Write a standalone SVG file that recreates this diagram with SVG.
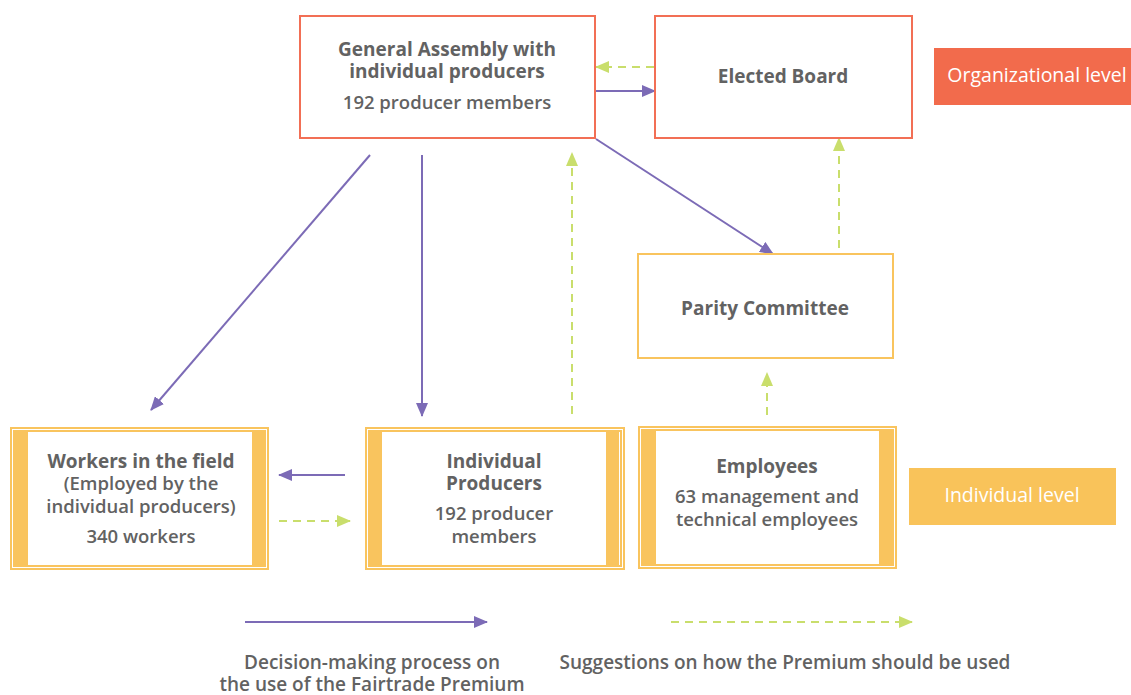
<svg xmlns="http://www.w3.org/2000/svg" width="1131" height="695" viewBox="0 0 1131 695">
<style>
text{font-family:"Open Sans","Noto Sans","Liberation Sans",sans-serif;font-size:19px;fill:#626262;text-anchor:middle}
.b{font-weight:bold}
.m{font-weight:600;font-size:18.5px}
.l{font-weight:600}
.w{fill:#ffffff;font-size:19.5px;font-weight:500}
.org{fill:#ffffff;stroke:#f26f55;stroke-width:2}
.ind{fill:#ffffff;stroke:#f9c45e;stroke-width:2}
.bar{fill:#f9c45e}
.dec{fill:none;stroke:#7c6bb6;stroke-width:2}
.sug{fill:none;stroke:#c9de6c;stroke-width:2;stroke-dasharray:8 6}
</style>
<defs>
<marker id="ap" markerUnits="userSpaceOnUse" markerWidth="14" markerHeight="12" refX="13" refY="6" orient="auto"><path d="M0,0 L14,6 L0,12 Z" fill="#7c6bb6"/></marker>
<marker id="ag" markerUnits="userSpaceOnUse" markerWidth="14" markerHeight="12" refX="13" refY="6" orient="auto"><path d="M0,0 L14,6 L0,12 Z" fill="#c9de6c"/></marker>
</defs>
<g id="connectors">
<line class="sug" x1="654" y1="67" x2="596" y2="67" marker-end="url(#ag)"/>
<line class="dec" x1="596" y1="91" x2="655" y2="91" marker-end="url(#ap)"/>
<line class="dec" x1="596" y1="139" x2="773" y2="254" marker-end="url(#ap)"/>
<line class="dec" x1="370" y1="155" x2="151" y2="410" marker-end="url(#ap)"/>
<line class="dec" x1="422" y1="155" x2="422" y2="416" marker-end="url(#ap)"/>
<line class="sug" x1="572" y1="414" x2="572" y2="153" marker-end="url(#ag)"/>
<line class="sug" x1="839" y1="248" x2="839" y2="138" marker-end="url(#ag)"/>
<line class="sug" x1="767" y1="415" x2="767" y2="373" marker-end="url(#ag)"/>
<line class="dec" x1="345" y1="475" x2="279" y2="475" marker-end="url(#ap)"/>
<line class="sug" x1="279" y1="521" x2="350" y2="521" marker-end="url(#ag)"/>
<line class="dec" x1="245" y1="622" x2="487" y2="622" marker-end="url(#ap)"/>
<line class="sug" x1="671" y1="622" x2="912" y2="622" marker-end="url(#ag)"/>
</g>
<g id="general-assembly">
<rect class="org" x="300" y="16" width="295" height="122"/>
<text class="b" x="447" y="56">General Assembly with</text>
<text class="b" x="447" y="78">individual producers</text>
<text class="m" x="447" y="109">192 producer members</text>
</g>
<g id="elected-board">
<rect class="org" x="655" y="16" width="257" height="122"/>
<text class="b" x="783" y="83">Elected Board</text>
</g>
<g id="organizational-level">
<rect x="934" y="48" width="197" height="57" fill="#f26b4c"/>
<text class="w" x="1037" y="82">Organizational level</text>
</g>
<g id="parity-committee">
<rect class="ind" x="638" y="254" width="255" height="104"/>
<text class="b" x="765" y="315">Parity Committee</text>
</g>
<g id="workers">
<rect class="ind" x="11" y="428" width="257" height="141" stroke-width="1.5"/>
<rect class="ind" x="14" y="431" width="251" height="135" stroke-width="1"/>
<rect class="bar" x="14" y="431" width="14" height="135"/>
<rect class="bar" x="252" y="431" width="13" height="135"/>
<text class="b" x="141" y="468">Workers in the field</text>
<text class="m" x="141" y="490">(Employed by the</text>
<text class="m" x="141" y="513">individual producers)</text>
<text class="m" x="141" y="543">340 workers</text>
</g>
<g id="individual-producers">
<rect class="ind" x="366" y="428" width="258" height="141" stroke-width="1.5"/>
<rect class="ind" x="369" y="431" width="252" height="135" stroke-width="1"/>
<rect class="bar" x="369" y="431" width="13" height="135"/>
<rect class="bar" x="606" y="431" width="13" height="135"/>
<text class="b" x="494" y="468">Individual</text>
<text class="b" x="494" y="490">Producers</text>
<text class="m" x="494" y="520">192 producer</text>
<text class="m" x="494" y="543">members</text>
</g>
<g id="employees">
<rect class="ind" x="639" y="427" width="257" height="141" stroke-width="1.5"/>
<rect class="ind" x="642" y="430" width="251" height="135" stroke-width="1"/>
<rect class="bar" x="643" y="430" width="13" height="134"/>
<rect class="bar" x="879" y="430" width="13" height="134"/>
<text class="b" x="767" y="473">Employees</text>
<text class="m" x="767" y="503">63 management and</text>
<text class="m" x="767" y="526">technical employees</text>
</g>
<g id="individual-level">
<rect x="909" y="468" width="207" height="57" fill="#f9c35a"/>
<text class="w" x="1012" y="502">Individual level</text>
</g>
<g id="legend">
<text class="l" x="372" y="669">Decision-making process on</text>
<text class="l" x="372" y="691">the use of the Fairtrade Premium</text>
<text class="l" x="785" y="669">Suggestions on how the Premium should be used</text>
</g>
</svg>
